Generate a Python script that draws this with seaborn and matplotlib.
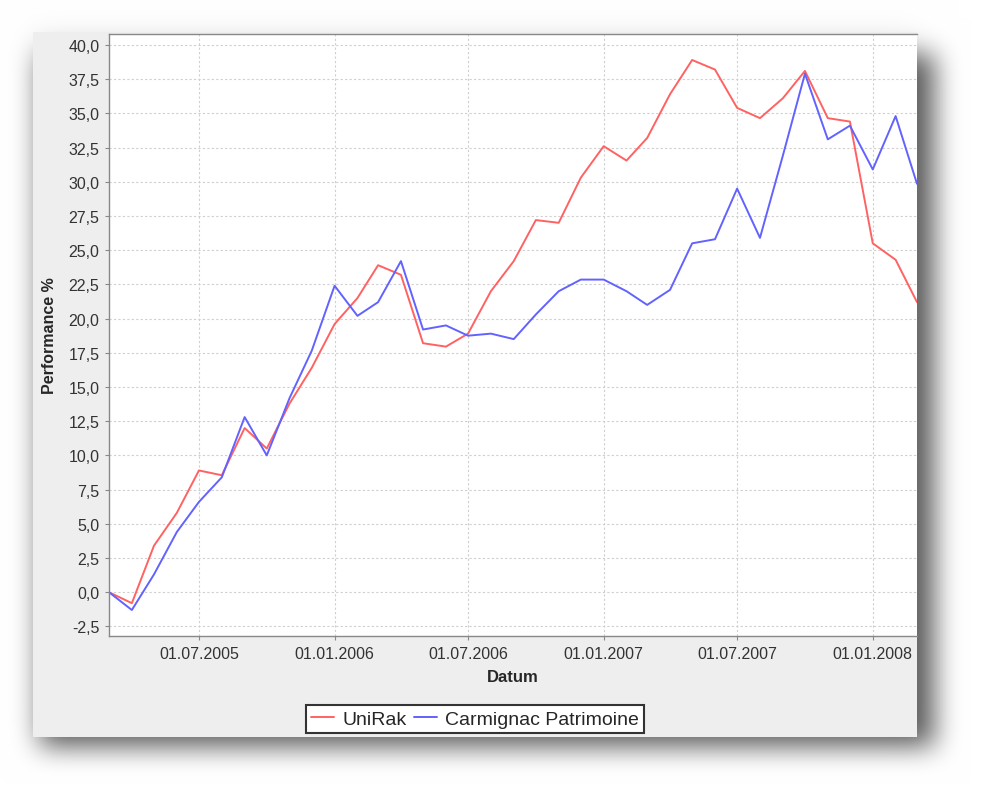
import numpy as np
import pandas as pd
import matplotlib
matplotlib.use('Agg')
import matplotlib.pyplot as plt
import matplotlib.dates as mdates
from matplotlib.ticker import FuncFormatter, MultipleLocator
from matplotlib.patches import Rectangle
import seaborn as sns

# monatliche Performance-Werte
datum = pd.date_range('2005-03-01', '2008-03-01', freq='MS')
unirak = [0.0, -0.8, 3.4, 5.8, 8.9, 8.55, 12.0, 10.5, 13.8, 16.4, 19.6, 21.5,
          23.9, 23.2, 18.2, 17.95, 18.9, 22.0, 24.2, 27.2, 27.0, 30.3, 32.6,
          31.55, 33.2, 36.4, 38.9, 38.2, 35.4, 34.65, 36.1, 38.1, 34.65, 34.4,
          25.5, 24.3, 21.2]
carmignac = [0.0, -1.3, 1.3, 4.4, 6.6, 8.4, 12.8, 10.0, 14.2, 17.65, 22.4, 20.2,
             21.2, 24.2, 19.2, 19.5, 18.75, 18.9, 18.5, 20.3, 22.0, 22.85, 22.85,
             22.0, 21.0, 22.1, 25.5, 25.8, 29.5, 25.9, 31.9, 37.9, 33.1, 34.1,
             30.9, 34.8, 29.85]
fonds = ['UniRak', 'Carmignac Patrimoine']
farben = ['#FF6262', '#6262FF']

df = pd.concat([
    pd.DataFrame({'Datum': datum, 'Performance': unirak, 'Fonds': fonds[0]}),
    pd.DataFrame({'Datum': datum, 'Performance': carmignac, 'Fonds': fonds[1]}),
])

sns.set_style('white')
plt.rcParams['font.family'] = ['Liberation Sans', 'DejaVu Sans']

W, H = 982, 804
fig = plt.figure(figsize=(W / 100, H / 100), dpi=100)

# Hintergrund mit Schlagschatten
bg = fig.add_axes([0, 0, 1, 1], zorder=-1)
bg.set_xlim(0, W)
bg.set_ylim(H, 0)
bg.axis('off')


def box_blur(a, r):
    p = np.pad(a, ((0, 0), (r + 1, r)), mode='edge')
    c = np.cumsum(p, axis=1)
    a = (c[:, 2 * r + 1:] - c[:, :-2 * r - 1]) / (2 * r + 1)
    p = np.pad(a, ((r + 1, r), (0, 0)), mode='edge')
    c = np.cumsum(p, axis=0)
    return (c[2 * r + 1:, :] - c[:-2 * r - 1, :]) / (2 * r + 1)


schatten = np.zeros((H, W))
schatten[55:748, 40:935] = 1.0
for _ in range(3):
    schatten = box_blur(schatten, 12)
halo = np.zeros((H, W))
halo[33:738, 33:917] = 1.0
for _ in range(3):
    halo = box_blur(halo, 14)
shade = 1 - 0.6 * schatten - 0.06 * halo
shade = np.clip(shade, 0, 1)
bg.imshow(np.dstack([shade, shade, shade]), extent=(0, W, H, 0), aspect='auto')
bg.add_patch(Rectangle((33, 33), 884, 705, facecolor='#EEEEEE', edgecolor='none'))

ax = fig.add_axes([109 / W, 1 - 637 / H, 808 / W, 602 / H])
ax.set_facecolor('white')

sns.lineplot(data=df, x='Datum', y='Performance', hue='Fonds',
             palette=dict(zip(fonds, farben)), linewidth=1.4, ax=ax)

ax.set_xlim(datum[0], datum[-1])
ax.set_ylim(-3.2, 40.8)
ax.yaxis.set_major_locator(MultipleLocator(2.5))
ax.yaxis.set_major_formatter(FuncFormatter(lambda v, p: f'{v:.1f}'.replace('.', ',')))
ax.xaxis.set_major_locator(mdates.MonthLocator(bymonth=[1, 7]))
ax.xaxis.set_major_formatter(mdates.DateFormatter('%d.%m.%Y'))

ax.grid(True, color='#CFCFCF', linestyle=(0, (2, 2)), linewidth=0.8)
for s in ['left', 'bottom', 'top']:
    ax.spines[s].set_color('#888888')
    ax.spines[s].set_linewidth(1.0)
ax.spines['right'].set_visible(False)
ax.tick_params(axis='both', which='major', length=3, width=0.8, color='#888888',
               labelsize=11.5, labelcolor='#333333', pad=4, direction='out',
               left=True, bottom=True)

ax.set_xlabel('Datum', fontsize=12, fontweight='bold', labelpad=6)
ax.set_ylabel('Performance %', fontsize=11.5, fontweight='bold', labelpad=8)

ax.legend_.remove()
handles, labels = ax.get_legend_handles_labels()
leg = fig.legend(handles, labels, loc='center', bbox_to_anchor=(475 / W, 1 - 720 / H),
                 ncol=2, fontsize=14, frameon=True, fancybox=False,
                 handlelength=1.2, handletextpad=0.4, columnspacing=0.4,
                 borderpad=0.25, borderaxespad=0)
leg.get_frame().set_edgecolor('#333333')
leg.get_frame().set_linewidth(1.5)
leg.get_frame().set_facecolor('white')
leg.get_frame().set_alpha(1)

fig.savefig('out.png', dpi=100)
